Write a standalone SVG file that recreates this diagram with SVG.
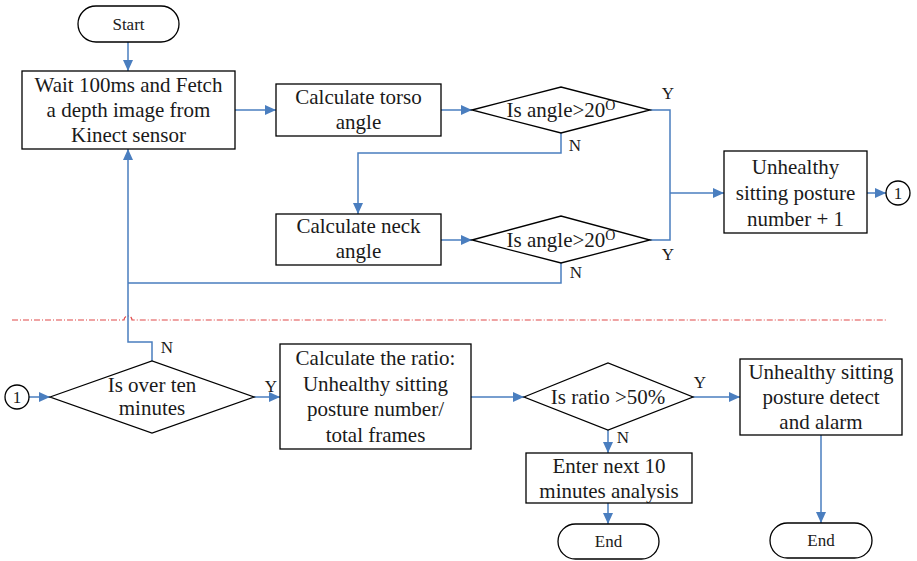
<svg xmlns="http://www.w3.org/2000/svg" width="917" height="561" viewBox="0 0 917 561">
<defs>
<style>
.box{fill:#fff;stroke:#000;stroke-width:1.3}
.t{font-family:'Liberation Serif','DejaVu Serif',serif;font-size:21px;fill:#1a1a1a;text-anchor:middle}
.s{font-family:'Liberation Serif','DejaVu Serif',serif;font-size:17px;fill:#1a1a1a;text-anchor:middle}
.c{fill:none;stroke:#4a7ebf;stroke-width:1.5}
.a{marker-end:url(#ah)}
</style>
<marker id="ah" markerUnits="userSpaceOnUse" markerWidth="12" markerHeight="10" refX="11" refY="5" orient="auto">
<path d="M0,0 L11,5 L0,10 Z" fill="#4a7ebf"/>
</marker>
</defs>
<rect width="917" height="561" fill="#fff"/>
<path d="M12 320 H124 A4 4 0 0 1 132 320 H887" fill="none" stroke="#e04848" stroke-width="1.2" stroke-dasharray="6 2 1 2"/>
<g id="connectors" font-family="Liberation Serif, DejaVu Serif, serif">
<path class="c a" d="M128 42 V71"/>
<path class="c a" d="M235 110 H276"/>
<path class="c a" d="M441 110 H472"/>
<path class="c" d="M650 110 H670 V240 H650"/>
<path class="c a" d="M670 193 H724"/>
<path class="c a" d="M561 133 V153 H358 V214"/>
<path class="c a" d="M441 240 H472"/>
<path class="c" d="M561 263 V283 H128"/>
<path class="c a" d="M152 361 V342 H128 V149"/>
<path class="c a" d="M867 193 H886"/>
<path class="c a" d="M29 397 H50"/>
<path class="c a" d="M254 397 H280"/>
<path class="c a" d="M471 397 H524"/>
<path class="c a" d="M693 397 H740"/>
<path class="c a" d="M608 430 V453"/>
<path class="c a" d="M608 503 V524"/>
<path class="c a" d="M821 435 V523"/>
<text class="s" x="668" y="99">Y</text>
<text class="s" x="575" y="151">N</text>
<text class="s" x="668" y="260">Y</text>
<text class="s" x="576" y="278">N</text>
<text class="s" x="167" y="353">N</text>
<text class="s" x="271" y="392">Y</text>
<text class="s" x="700" y="388">Y</text>
<text class="s" x="623" y="443">N</text>
</g>
<g id="nodes" font-family="Liberation Serif, DejaVu Serif, serif">
<g id="start">
<rect class="box" x="78" y="6" width="101" height="36" rx="18"/>
<text class="s" x="128.5" y="30">Start</text>
</g>
<g id="wait">
<rect class="box" x="22" y="71" width="213" height="78"/>
<text class="t" x="128.5" y="92">Wait 100ms and Fetch</text>
<text class="t" x="128.5" y="117">a depth image from</text>
<text class="t" x="128.5" y="142">Kinect sensor</text>
</g>
<g id="torso">
<rect class="box" x="276" y="84" width="165" height="52"/>
<text class="t" x="358.5" y="104">Calculate torso</text>
<text class="t" x="358.5" y="129">angle</text>
</g>
<g id="d1">
<polygon class="box" points="472,110 561,87 650,110 561,133"/>
<text class="t" x="561" y="117">Is angle&gt;20<tspan font-size="14" dy="-7">O</tspan></text>
</g>
<g id="neck">
<rect class="box" x="276" y="214" width="165" height="51"/>
<text class="t" x="358.5" y="233">Calculate neck</text>
<text class="t" x="358.5" y="258">angle</text>
</g>
<g id="d2">
<polygon class="box" points="472,240 561,216 650,240 561,263"/>
<text class="t" x="561" y="247">Is angle&gt;20<tspan font-size="14" dy="-7">O</tspan></text>
</g>
<g id="unhealthy">
<rect class="box" x="724" y="151" width="143" height="82"/>
<text class="t" x="795.5" y="174">Unhealthy</text>
<text class="t" x="795.5" y="200">sitting posture</text>
<text class="t" x="795.5" y="226">number + 1</text>
</g>
<g id="conn1a">
<circle class="box" cx="898" cy="193" r="12"/>
<text class="s" x="898" y="199">1</text>
</g>
<g id="conn1b">
<circle class="box" cx="17" cy="397" r="12"/>
<text class="s" x="17" y="403">1</text>
</g>
<g id="d3">
<polygon class="box" points="50,397 152,361 254,397 152,433"/>
<text class="t" x="152" y="392">Is over ten</text>
<text class="t" x="152" y="415">minutes</text>
</g>
<g id="ratio">
<rect class="box" x="280" y="344" width="191" height="105"/>
<text class="t" x="375.5" y="365">Calculate the ratio:</text>
<text class="t" x="375.5" y="391">Unhealthy sitting</text>
<text class="t" x="375.5" y="416">posture number/</text>
<text class="t" x="375.5" y="442">total frames</text>
</g>
<g id="d4">
<polygon class="box" points="524,397 608,363 693,397 608,430"/>
<text class="t" x="608" y="404">Is ratio &gt;50%</text>
</g>
<g id="alarm">
<rect class="box" x="740" y="359" width="162" height="76"/>
<text class="t" x="821" y="379">Unhealthy sitting</text>
<text class="t" x="821" y="404">posture detect</text>
<text class="t" x="821" y="429">and alarm</text>
</g>
<g id="next">
<rect class="box" x="526" y="453" width="166" height="50"/>
<text class="t" x="609" y="473">Enter next 10</text>
<text class="t" x="609" y="498">minutes analysis</text>
</g>
<g id="end1">
<rect class="box" x="558" y="524" width="101" height="35" rx="17.5"/>
<text class="s" x="608.5" y="547">End</text>
</g>
<g id="end2">
<rect class="box" x="770" y="523" width="102" height="35" rx="17.5"/>
<text class="s" x="821" y="546">End</text>
</g>
</g>
</svg>
